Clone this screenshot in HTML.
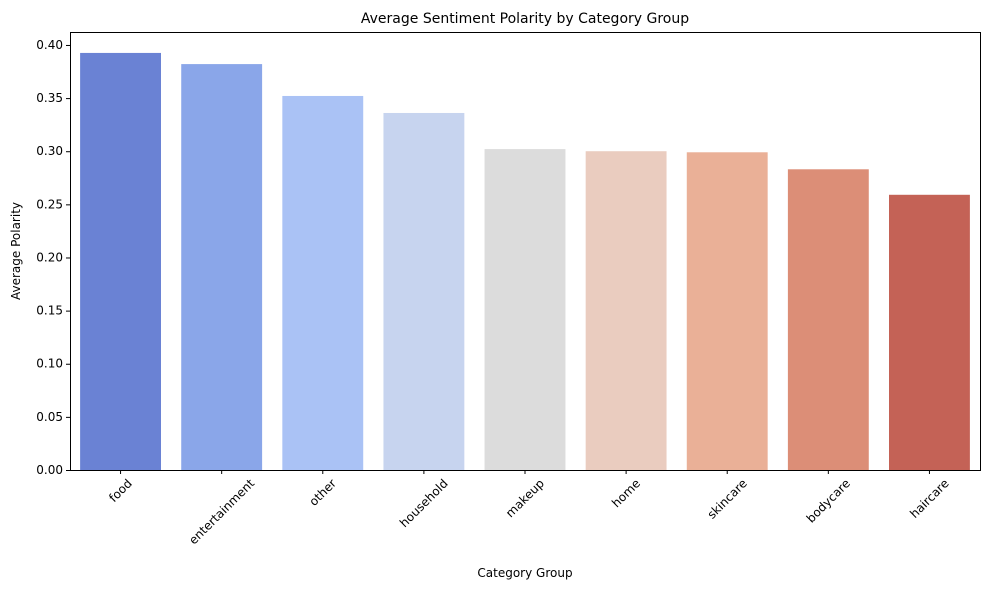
<!DOCTYPE html>
<html><head><meta charset="utf-8"><style>
body{margin:0;background:#fff;font-family:"Liberation Sans","DejaVu Sans",sans-serif;}
svg text{font-family:"DejaVu Sans","Liberation Sans",sans-serif;fill:#000;}
</style></head><body>
<svg id="chart" width="989" height="590" xmlns="http://www.w3.org/2000/svg">
<text x="525" y="23" font-size="14" text-anchor="middle">Average Sentiment Polarity by Category Group</text>
<text x="525" y="577" font-size="12" text-anchor="middle">Category Group</text>
<text transform="translate(20,251) rotate(-90)" font-size="12" text-anchor="middle">Average Polarity</text>
<g id="bars"></g><g id="yticks"></g><g id="xticks"></g>
<rect x="70.5" y="32.5" width="910" height="438" fill="none" stroke="#000" stroke-width="1"/>
</svg>
<script>
const categories=["food","entertainment","other","household","makeup","home","skincare","bodycare","haircare"];
const values=[0.3925,0.382,0.352,0.336,0.302,0.300,0.299,0.283,0.259];
const colors=["#6a82d4","#8aa6e9","#aac2f5","#c7d4ef","#dcdcdc","#eaccbf","#eab097","#dc8e77","#c46256"];
const yTicks=["0.00","0.05","0.10","0.15","0.20","0.25","0.30","0.35","0.40"];
const L=70,R=980,T=32,B=470,ymax=0.4122;
const y=v=>B-(v/ymax)*(B-T);
const step=(R-L)/categories.length;
const x=i=>L+step*(i+0.5);
const ns="http://www.w3.org/2000/svg";
const mk=(t,a,p)=>{const e=document.createElementNS(ns,t);for(const k in a)e.setAttribute(k,a[k]);p.appendChild(e);return e;};
const gb=document.getElementById('bars'),gy=document.getElementById('yticks'),gx=document.getElementById('xticks');
categories.forEach((c,i)=>{
 const w=step*0.8;
 const r=mk('rect',{x:x(i)-w/2,y:y(values[i]),width:w,height:B-y(values[i]),fill:colors[i]},gb);
 
 
 mk('line',{x1:x(i),x2:x(i),y1:B,y2:B+4,stroke:'#000'},gx);
 const t=mk('text',{x:0,y:0,'font-size':12,'text-anchor':'middle','dominant-baseline':'central'},gx);
 t.textContent=c;
 
 
 const len=t.getComputedTextLength();
 const h=(len+12)*0.7071;
 t.setAttribute('transform',`translate(${x(i)},${B+7+h/2}) rotate(-45)`);
});
yTicks.forEach(s=>{
 const v=parseFloat(s);
 mk('line',{x1:L-4,x2:L,y1:y(v)+0.5,y2:y(v)+0.5,stroke:'#000'},gy);
 const t=mk('text',{x:L-7,y:y(v)+4,'font-size':12,'text-anchor':'end'},gy);
 t.textContent=s;
 
 
});
</script>
</body></html>
